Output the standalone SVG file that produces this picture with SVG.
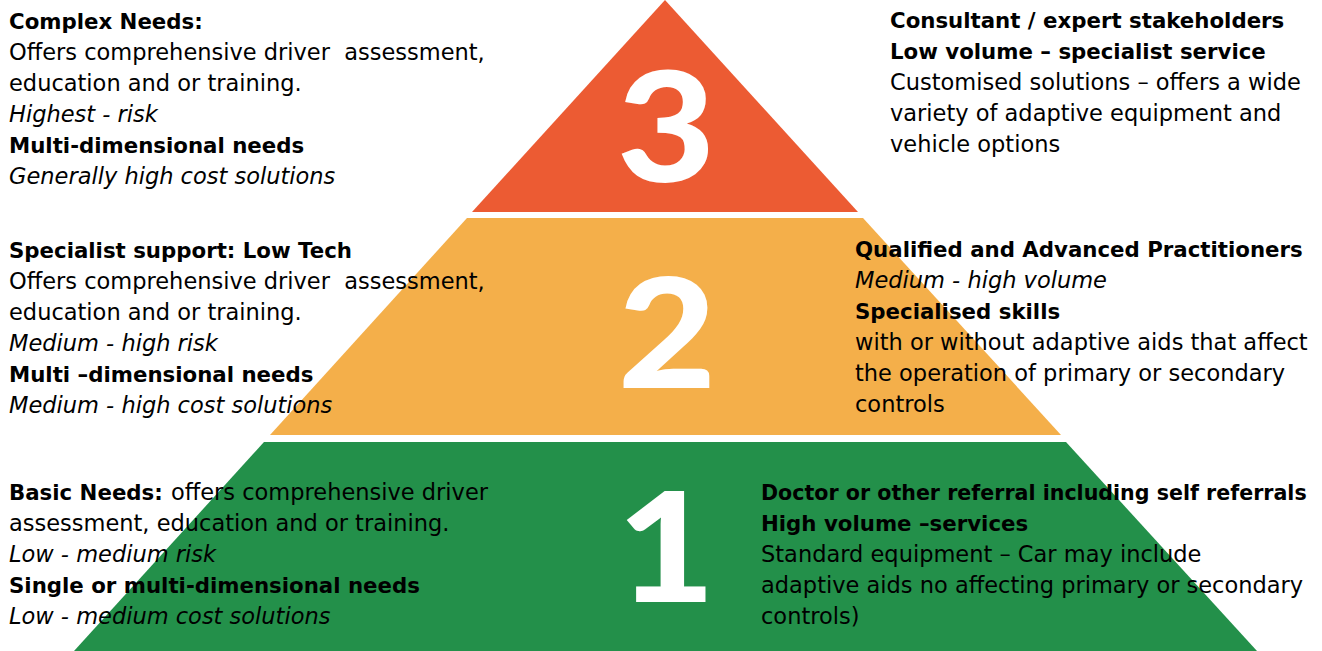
<svg xmlns="http://www.w3.org/2000/svg" width="1322" height="651" viewBox="0 0 1322 651">
<style>
.t{font-family:"DejaVu Sans","Liberation Sans",sans-serif;font-size:22.5px;fill:#000;white-space:pre}
.b,.x{font-weight:700;font-size:21.3px}
.i{font-style:italic}
.num{font-family:Lato,"Liberation Sans",sans-serif;font-weight:900;font-size:152px;fill:#fff;text-anchor:middle}
</style>
<rect width="1322" height="651" fill="#fff"/>
<g id="tier3">
<polygon points="665,0 858,212 472,212" fill="#EC5B33"/>
<text class="num" transform="translate(666,182) scale(1.12,1)">3</text>
</g>
<g id="tier2">
<polygon points="467,218 863,218 1061,435 270,435" fill="#F4AF4A"/>
<text class="num" transform="translate(667,388) scale(1.12,1)">2</text>
</g>
<g id="tier1">
<polygon points="264,442 1066,442 1257,651 74,651" fill="#23904A"/>
<text class="num" transform="translate(666,602) scale(1.12,1)">1</text>
</g>
<g id="connectors"/>
<g id="text-complex">
<text class="t x" x="9" y="29">Complex Needs:</text>
<text class="t" x="9" y="60" xml:space="preserve">Offers comprehensive driver  assessment,</text>
<text class="t" x="9" y="91">education and or training.</text>
<text class="t i" x="9" y="122">Highest - risk</text>
<text class="t b" x="9" y="153">Multi-dimensional needs</text>
<text class="t i" x="9" y="184">Generally high cost solutions</text>
</g>
<g id="text-consultant">
<text class="t x" x="890" y="28">Consultant / expert stakeholders</text>
<text class="t b" x="890" y="59">Low volume – specialist service</text>
<text class="t" x="890" y="90">Customised solutions – offers a wide</text>
<text class="t" x="890" y="121">variety of adaptive equipment and</text>
<text class="t" x="890" y="152">vehicle options</text>
</g>
<g id="text-specialist">
<text class="t x" x="9" y="258">Specialist support: Low Tech</text>
<text class="t" x="9" y="289" xml:space="preserve">Offers comprehensive driver  assessment,</text>
<text class="t" x="9" y="320">education and or training.</text>
<text class="t i" x="9" y="351">Medium - high risk</text>
<text class="t b" x="9" y="382">Multi –dimensional needs</text>
<text class="t i" x="9" y="413">Medium - high cost solutions</text>
</g>
<g id="text-qualified">
<text class="t x" x="855" y="257">Qualified and Advanced Practitioners</text>
<text class="t i" x="855" y="288">Medium - high volume</text>
<text class="t x" x="855" y="319">Specialised skills</text>
<text class="t" x="855" y="350">with or without adaptive aids that affect</text>
<text class="t" x="855" y="381">the operation of primary or secondary</text>
<text class="t" x="855" y="412">controls</text>
</g>
<g id="text-basic">
<text class="t x" x="9" y="500">Basic Needs:</text>
<text class="t" x="171" y="500">offers comprehensive driver</text>
<text class="t" x="9" y="531">assessment, education and or training.</text>
<text class="t i" x="9" y="562">Low - medium risk</text>
<text class="t b" x="9" y="593">Single or multi-dimensional needs</text>
<text class="t i" x="9" y="624">Low - medium cost solutions</text>
</g>
<g id="text-doctor">
<text class="t x" x="761" y="500" style="font-size:20.6px">Doctor or other referral including self referrals</text>
<text class="t b" x="761" y="531">High volume –services</text>
<text class="t" x="761" y="562">Standard equipment – Car may include</text>
<text class="t" x="761" y="593">adaptive aids no affecting primary or secondary</text>
<text class="t" x="761" y="624">controls)</text>
</g>
</svg>
